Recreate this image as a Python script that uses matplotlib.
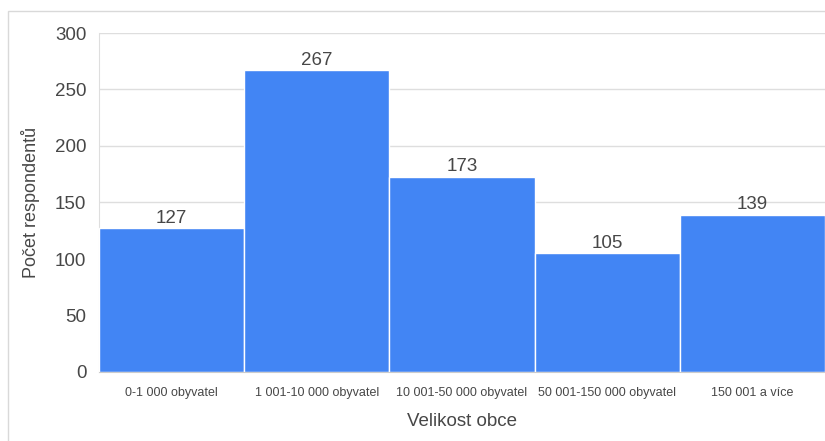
import matplotlib
matplotlib.use("Agg")
import matplotlib.pyplot as plt
from matplotlib.patches import Rectangle

categories = ["0-1 000 obyvatel", "1 001-10 000 obyvatel", "10 001-50 000 obyvatel",
              "50 001-150 000 obyvatel", "150 001 a více"]
values = [127, 267, 173, 105, 139]
yticks = [0, 50, 100, 150, 200, 250, 300]

plt.rcParams['font.family'] = ['Liberation Sans', 'DejaVu Sans']

fig = plt.figure(figsize=(8.25, 4.41), dpi=100)
# outer light border (chart frame, cut off at right/bottom)
fig.patches.append(Rectangle((8/825, -0.1), 1.2, 1 - 11/441 + 0.1, transform=fig.transFigure,
                             fill=False, edgecolor="#d9d9d9", linewidth=1.0, zorder=0))

ax = fig.add_axes([99/825, 1 - 372/441, 1 - 99/825, (372 - 33)/441])
x = range(len(categories))
bars = ax.bar(x, values, width=1.0, color="#4285F4", edgecolor="white", linewidth=1.0, zorder=3)
for xi, v in zip(x, values):
    ax.text(xi, v + 1.5, str(v), ha="center", va="bottom", fontsize=13.5, color="#474747", zorder=4)

ax.set_xlim(-0.5, 4.5)
ax.set_ylim(0, 300)
ax.set_yticks(yticks)
ax.set_yticklabels([str(t) for t in yticks], fontsize=13.5, color="#474747")
ax.set_xticks(list(x))
ax.set_xticklabels(categories, fontsize=9, color="#474747")
ax.tick_params(axis="both", length=0)
ax.tick_params(axis="x", pad=11)
ax.tick_params(axis="y", pad=9)
ax.grid(axis="y", color="#dedede", linewidth=1.0, zorder=0)
for s in ["top", "right"]:
    ax.spines[s].set_visible(False)
ax.spines["left"].set_color("#dedede")
ax.spines["bottom"].set_color("#cccccc")
ax.spines["bottom"].set_zorder(5)

ax.set_xlabel("Velikost obce", fontsize=13.5, color="#474747", labelpad=10)
ax.set_ylabel("Počet respondentů", fontsize=13, color="#474747", labelpad=11)

fig.savefig("out.png", dpi=100)
